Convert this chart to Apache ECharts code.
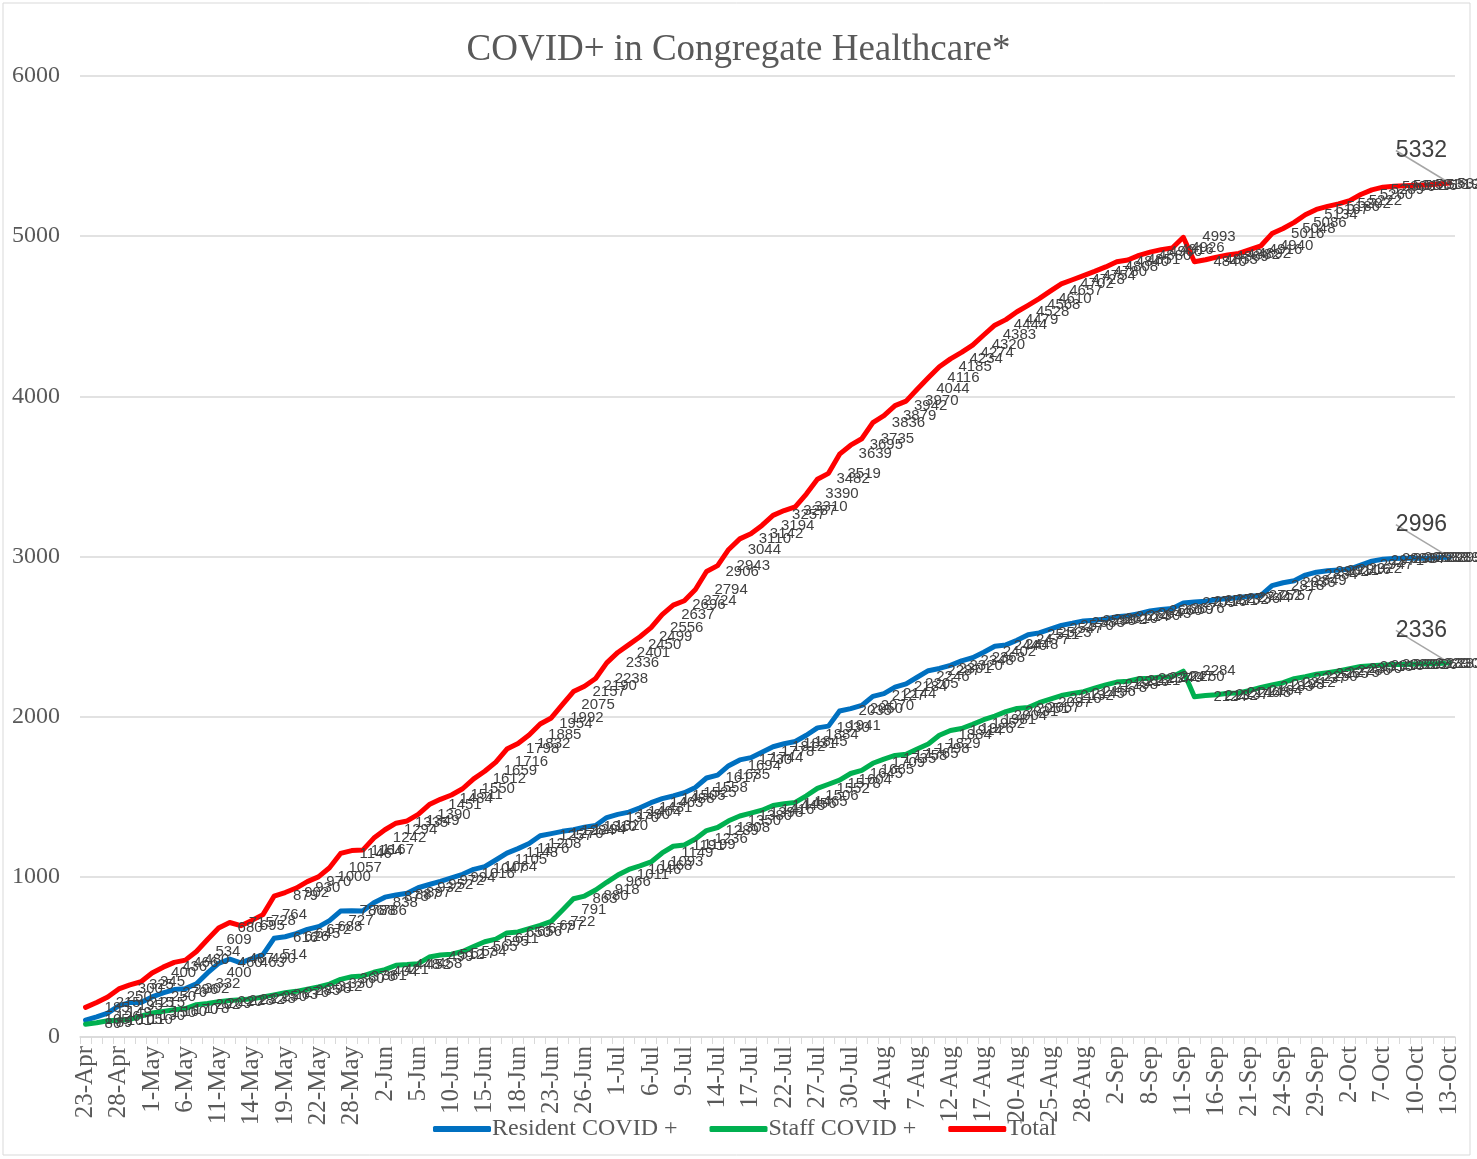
<!DOCTYPE html>
<html>
<head>
<meta charset="utf-8">
<title>COVID+ in Congregate Healthcare</title>
<script src="https://cdn.jsdelivr.net/npm/echarts@6/dist/echarts.min.js"></script>
<style>
  html, body { margin: 0; padding: 0; background: #fff; }
  #chart { width: 1477px; height: 1159px; }
</style>
</head>
<body>
<div id="chart"></div>
<script>
// dates on the category axis (working days)
var dates = [
  '23-Apr','24-Apr','27-Apr','28-Apr','29-Apr','30-Apr',
  '1-May','4-May','5-May','6-May','7-May','8-May','11-May','12-May','13-May','14-May','15-May',
  '18-May','19-May','20-May','21-May','22-May','26-May','27-May','28-May','29-May',
  '1-Jun','2-Jun','3-Jun','4-Jun','5-Jun','8-Jun','9-Jun','10-Jun','11-Jun','12-Jun',
  '15-Jun','16-Jun','17-Jun','18-Jun','19-Jun','22-Jun','23-Jun','24-Jun','25-Jun','26-Jun',
  '29-Jun','30-Jun',
  '1-Jul','2-Jul','3-Jul','6-Jul','7-Jul','8-Jul','9-Jul','10-Jul','13-Jul','14-Jul','15-Jul',
  '16-Jul','17-Jul','20-Jul','21-Jul','22-Jul','23-Jul','24-Jul','27-Jul','28-Jul','29-Jul',
  '30-Jul','31-Jul',
  '3-Aug','4-Aug','5-Aug','6-Aug','7-Aug','10-Aug','11-Aug','12-Aug','13-Aug','14-Aug',
  '17-Aug','18-Aug','19-Aug','20-Aug','21-Aug','24-Aug','25-Aug','26-Aug','27-Aug','28-Aug',
  '31-Aug',
  '1-Sep','2-Sep','3-Sep','4-Sep','8-Sep','9-Sep','10-Sep','11-Sep','14-Sep','15-Sep',
  '16-Sep','17-Sep','18-Sep','21-Sep','22-Sep','23-Sep','24-Sep','25-Sep','28-Sep','29-Sep',
  '30-Sep',
  '1-Oct','2-Oct','5-Oct','6-Oct','7-Oct','8-Oct','9-Oct','10-Oct','11-Oct','12-Oct','13-Oct'
];

var resident = [
  105, 126, 149, 195, 215, 215, 250, 276, 296, 302,
  332, 400, 460, 487, 463, 490, 514, 616, 626, 645,
  672, 688, 727, 786, 788, 786, 838, 873, 887, 897,
  932, 952, 972, 994, 1016, 1047, 1064, 1105, 1148, 1176,
  1208, 1257, 1270, 1284, 1294, 1310, 1320, 1370, 1390, 1404,
  1431, 1463, 1488, 1505, 1525, 1558, 1617, 1635, 1694, 1730,
  1744, 1778, 1812, 1831, 1845, 1884, 1930, 1941, 2035, 2050,
  2070, 2127, 2144, 2184, 2205, 2246, 2287, 2301, 2320, 2348,
  2368, 2402, 2440, 2448, 2477, 2511, 2523, 2547, 2570, 2583,
  2598, 2602, 2610, 2624, 2630, 2643, 2660, 2669, 2676, 2709,
  2716, 2721, 2732, 2736, 2744, 2752, 2757, 2818, 2836, 2849,
  2884, 2902, 2911, 2916, 2922, 2947, 2971, 2983, 2987, 2989,
  2989, 2989, 2993, 2996
];

var staff = [
  80, 89, 101, 105, 110, 130, 150, 160, 170, 178,
  202, 209, 220, 228, 232, 238, 250, 263, 276, 285,
  298, 312, 330, 360, 376, 381, 404, 421, 448, 452,
  458, 499, 512, 517, 534, 565, 595, 611, 650, 656,
  677, 697, 722, 791, 863, 880, 918, 966, 1011, 1046,
  1068, 1093, 1149, 1191, 1199, 1236, 1289, 1308, 1350, 1380,
  1398, 1416, 1445, 1456, 1465, 1506, 1552, 1578, 1604, 1645,
  1665, 1709, 1735, 1758, 1765, 1798, 1829, 1884, 1914, 1926,
  1952, 1981, 2004, 2031, 2051, 2057, 2087, 2110, 2132, 2145,
  2156, 2178, 2198, 2216, 2221, 2237, 2240, 2247, 2250, 2284,
  2124, 2132, 2137, 2146, 2148, 2164, 2183, 2198, 2212, 2237,
  2250, 2265, 2275, 2286, 2300, 2313, 2318, 2323, 2325, 2326,
  2329, 2330, 2332, 2336
];

var total = [
  185, 215, 250, 300, 325, 345, 400, 436, 466, 480,
  534, 609, 680, 715, 695, 728, 764, 879, 902, 930,
  970, 1000, 1057, 1146, 1164, 1167, 1242, 1294, 1335, 1349,
  1390, 1451, 1484, 1511, 1550, 1612, 1659, 1716, 1798, 1832,
  1885, 1954, 1992, 2075, 2157, 2190, 2238, 2336, 2401, 2450,
  2499, 2556, 2637, 2696, 2724, 2794, 2906, 2943, 3044, 3110,
  3142, 3194, 3257, 3287, 3310, 3390, 3482, 3519, 3639, 3695,
  3735, 3836, 3879, 3942, 3970, 4044, 4116, 4185, 4234, 4274,
  4320, 4383, 4444, 4479, 4528, 4568, 4610, 4657, 4702, 4728,
  4754, 4780, 4808, 4840, 4851, 4880, 4900, 4916, 4926, 4993,
  4840, 4853, 4869, 4882, 4892, 4916, 4940, 5016, 5048, 5086,
  5134, 5167, 5186, 5202, 5222, 5260, 5289, 5306, 5312, 5315,
  5318, 5319, 5325, 5332
];

var yTicks = [0, 1000, 2000, 3000, 4000, 5000, 6000];

var serif = "'Liberation Serif', 'DejaVu Serif', serif";
var grey = '#595959';

function withCallout(values) {
  // last point gets the big label with a leader line
  var out = values.slice();
  var last = out.length - 1;
  out[last] = {
    value: values[last],
    label: {
      position: 'top',
      distance: 4,
      fontSize: 23,
      color: '#404040'
    },
    labelLine: {
      show: true,
      lineStyle: { color: '#a6a6a6', width: 1.5 }
    }
  };
  return out;
}

function makeSeries(name, values, color) {
  return {
    name: name,
    type: 'line',
    data: withCallout(values),
    symbol: 'circle',
    symbolSize: 0,
    showSymbol: true,
    showAllSymbol: true,
    lineStyle: { color: color, width: 5, cap: 'round', join: 'round' },
    itemStyle: { color: color },
    label: {
      show: true,
      position: 'right',
      distance: 19,
      fontFamily: "'Liberation Sans', Arial, sans-serif",
      fontSize: 15,
      color: '#404040'
    },
    labelLayout: function (params) {
      if (params.dataIndex === values.length - 1) {
        return { dx: -28, dy: -17 };
      }
    },
    emphasis: { disabled: true },
    animation: false
  };
}

var chart = echarts.init(document.getElementById('chart'));
chart.setOption({
  backgroundColor: '#fff',
  animation: false,
  title: {
    text: 'COVID+ in Congregate Healthcare*',
    left: 'center',
    top: 27,
    textStyle: { fontFamily: serif, fontSize: 37, fontWeight: 'normal', color: grey }
  },
  graphic: [{
    type: 'rect',
    shape: { x: 3, y: 3, width: 1467, height: 1152 },
    style: { fill: 'none', stroke: '#d9d9d9', lineWidth: 1 },
    silent: true
  }],
  legend: {
    left: 428,
    top: 1112,
    itemWidth: 58,
    itemHeight: 6,
    itemGap: 32,
    icon: 'roundRect',
    textStyle: { fontFamily: serif, fontSize: 24, color: grey, padding: [0, 0, 0, -4] },
    data: ['Resident COVID +', 'Staff COVID +', 'Total']
  },
  grid: { left: 80, right: 22, top: 76, bottom: 122 },
  xAxis: {
    type: 'category',
    data: dates,
    boundaryGap: true,
    axisLine: { lineStyle: { color: '#d9d9d9', width: 1.5 } },
    axisTick: { show: true, interval: 0, length: 7, lineStyle: { color: '#d9d9d9' } },
    axisLabel: {
      interval: 2,
      rotate: 90,
      margin: 9,
      fontFamily: serif,
      fontSize: 25,
      color: grey
    },
    splitLine: { show: false }
  },
  yAxis: {
    type: 'value',
    min: yTicks[0],
    max: yTicks[yTicks.length - 1],
    interval: 1000,
    axisLine: { show: false },
    axisTick: { show: false },
    axisLabel: {
      fontFamily: serif,
      fontSize: 24,
      color: grey,
      margin: 20,
      formatter: function (v) { return String(v); }
    },
    splitLine: { lineStyle: { color: '#d9d9d9', width: 1.5 } }
  },
  series: [
    makeSeries('Resident COVID +', resident, '#0070c0'),
    makeSeries('Staff COVID +', staff, '#00b050'),
    makeSeries('Total', total, '#ff0000')
  ]
});
</script>
</body>
</html>
